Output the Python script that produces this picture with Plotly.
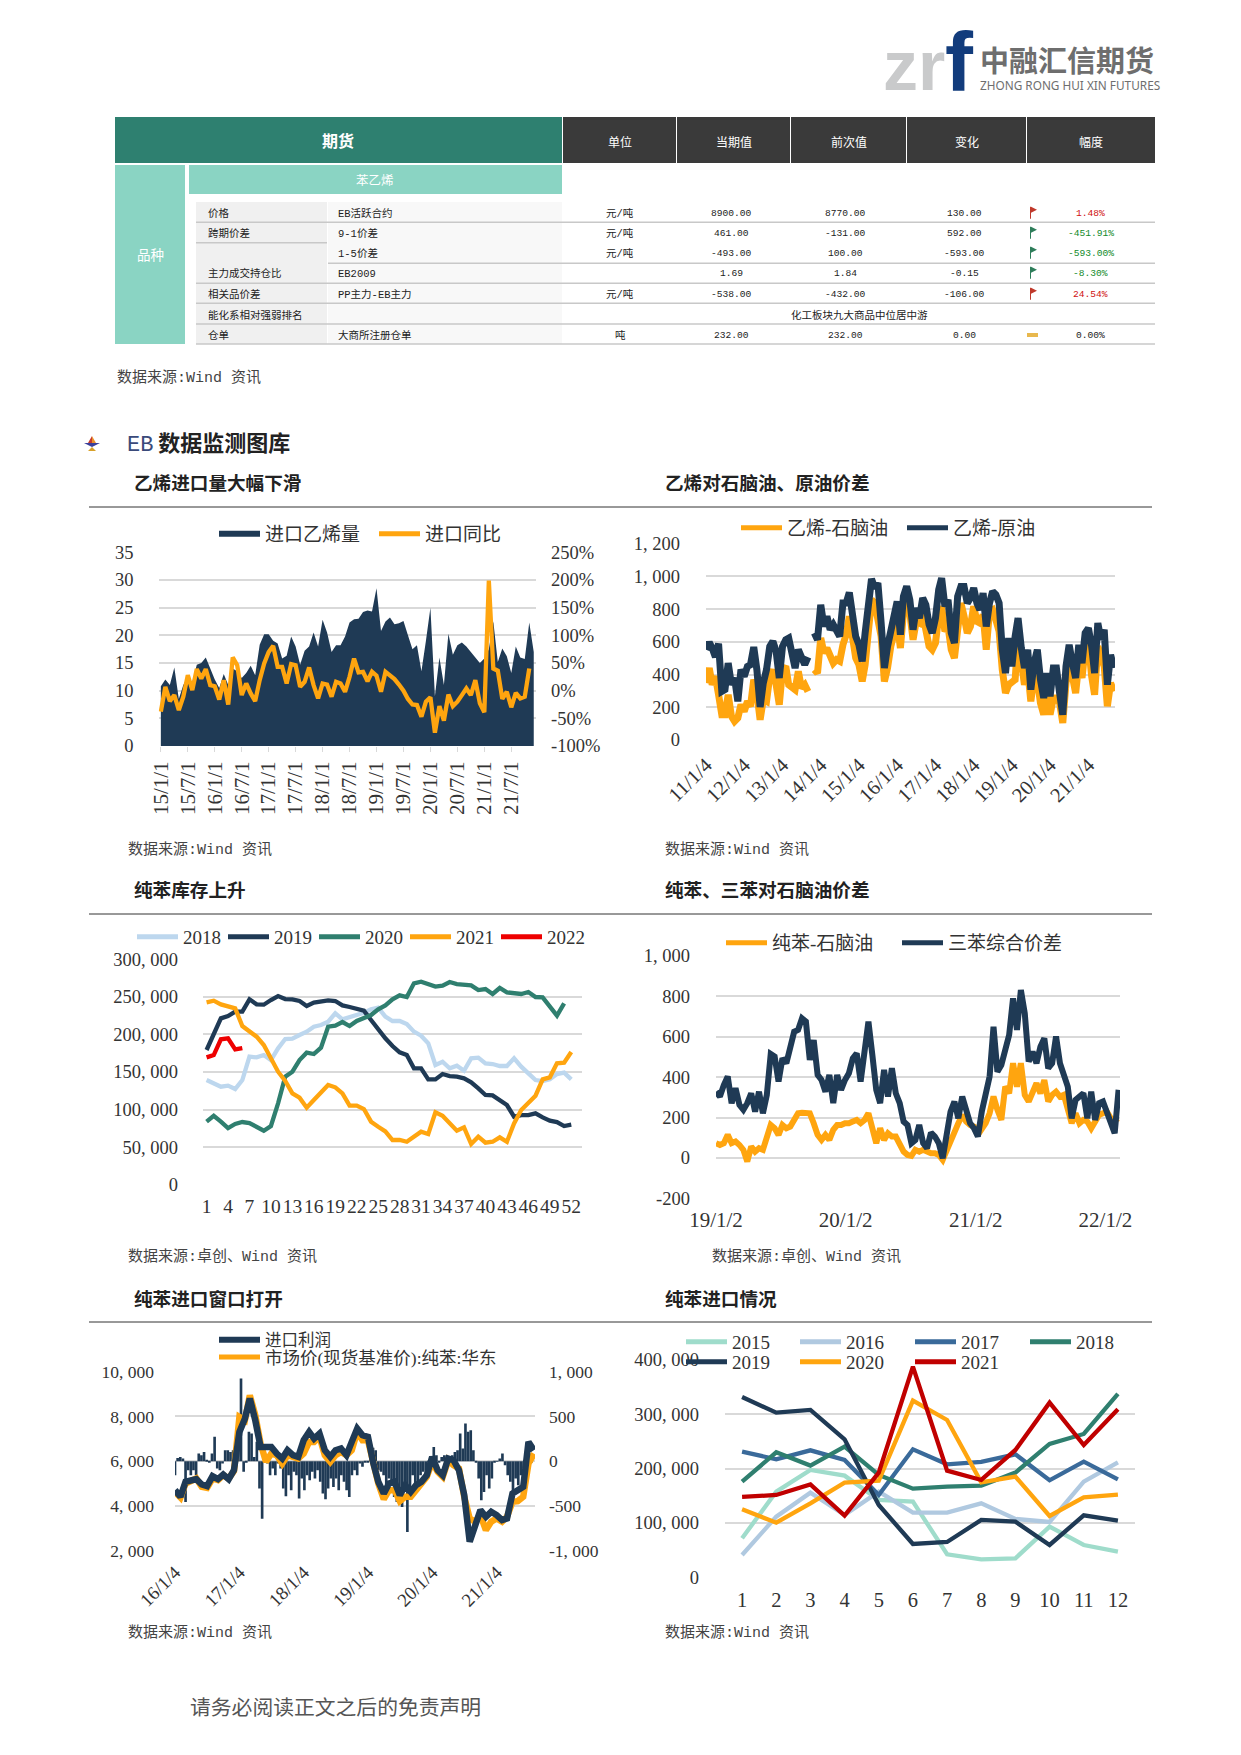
import pandas as pd
import plotly.graph_objects as go

W, H = 1241, 1755
NAVY, ORANGE, TEAL, GRID = "#1f3a55", "#ffa50f", "#2f7f6f", "#d9d9d9"
SERIF = "Liberation Serif, Noto Sans CJK SC"
MONO = "Liberation Mono, Noto Sans CJK SC"
SANS = "Noto Sans CJK SC"

# ---------- Chart 1: monthly ethylene imports ----------
c1_months = [f"{y}/{m}/1" for y in range(15, 22) for m in range(1, 13)]
c1_import = [10.8,12,11,14.2,8.5,11,12.5,11.5,14.7,15,16,14,12,10.5,13,11,14,13.5,12.3,13.2,14.5,12.8,18.3,20.2,
             20.2,19,18.5,15.8,16.3,19.8,18,14.7,17.2,18,20.5,18,22.8,20.5,17,18.2,18.2,19.8,22.3,22.9,23,24.2,24.5,24.3,
             28.5,20.8,22.5,23.2,22,22.2,22.6,20,17.5,18.2,13.5,19,25,9,16,11,20.3,16.5,18.2,18.7,18,17,16,15,
             15.8,17.5,22.5,15.2,17.6,16.2,13.2,18,16,15.7,22.3,17]
c1_yoy = [-38,7,-19,-8,-35,-11,28,1,39,22,39,10,8,-16,19,-25,60,46,-8,13,-5,-19,19,49,
          70,81,43,43,13,48,46,7,16,42,10,-14,13,11,-11,16,13,-2,25,58,33,34,17,34,
          27,-2,34,28,21,11,0,-15,-25,-26,-47,-20,-12,-76,-28,-54,-7,-28,-20,-8,4,-8,19,-23,
          -39,199,40,36,-15,-2,-30,-4,-14,-11,40]

# ---------- Chart 2: ethylene spreads ----------
c2_naphtha = [348,440,338,389,277,155,155,277,145,114,134,216,175,236,206,369,287,124,246,236,389,430,338,216,430,450,338,328,308,420,318,338,297,None,430,409,623,532,562,501,470,491,481,582,644,756,603,501,460,358,460,694,857,837,756,633,358,440,572,633,725,562,776,857,776,613,
              725,715,776,674,572,552,593,756,817,664,694,552,501,674,837,756,654,694,817,725,715,766,552,786,796,735,664,430,287,338,348,369,633,491,338,430,236,389,369,226,155,287,155,257,257,226,104,348,470,389,287,470,379,562,593,389,277,572,511,450,206,348,297]
c2_crude = [552,597,562,507,589,297,308,470,338,379,236,430,389,450,460,568,430,202,348,430,572,603,542,379,572,613,623,511,440,552,501,460,507,None,654,613,827,694,756,674,705,654,633,837,837,902,745,633,582,481,654,837,984,929,959,715,440,572,654,756,847,644,878,939,857,674,
            807,745,868,827,705,654,745,919,990,817,857,654,593,878,939,939,837,868,929,837,796,898,694,837,908,888,837,552,409,623,450,633,745,562,440,552,308,470,552,369,257,409,267,440,440,287,155,450,582,470,379,582,470,654,684,572,409,715,613,674,338,521,440]
c2_dates = pd.date_range("2011-01-04", periods=max(len(c2_naphtha), len(c2_crude)), freq=pd.DateOffset(months=1))
c2_ticks = [f"{y}-01-04" for y in range(2011, 2022)]
c2_ticktext = [f"{y}/1/4" for y in range(11, 22)]

# ---------- Chart 3: benzene stock by week ----------
c3_weeks = list(range(1, 53))
c3_2018 = [139300,134900,130400,131800,127300,139300,170400,169500,172600,165900,181500,193900,194300,199200,203700,210300,212500,217000,228100,220100,222700,225800,228900,233400,235600,223600,217900,217900,213900,203700,198300,188100,159300,163700,154900,158400,151700,168200,169100,161500,160600,158000,158000,168200,157100,148200,139300,138000,140200,147300,149100,140200]
c3_2019 = [179300,201400,221400,224500,230300,230300,246700,240000,239600,245800,251100,247100,246700,244500,237800,242300,244500,245400,244500,238700,236500,234700,231600,219200,205900,194800,184600,176100,172600,154900,154900,140200,140200,147300,144600,143800,141500,136200,128200,119400,118900,112700,106000,90500,92700,92700,95000,89600,85200,83400,78100,79900]
c3_2020 = [83900,91800,83900,75400,80800,83400,82100,76300,71900,78100,108300,143800,150400,165900,175700,173900,182400,210300,211600,216500,211200,217900,222300,225800,233400,238700,246700,252000,249800,268000,270200,267100,263600,264900,269800,267100,265800,265300,259100,260400,253800,261800,256000,255600,253800,256500,249800,249400,237800,225000,241400]
c3_2021 = [242700,244900,240000,237800,234700,211200,203700,197000,185900,169500,150400,138000,121600,115800,102500,112700,122900,132700,129600,121600,105200,105200,100700,83900,77200,71000,59500,59500,57200,63900,70500,67400,96300,91800,80800,71900,76300,54100,63900,55900,57200,63000,57200,81600,99400,109200,118500,140200,142900,161500,162400,176600]
c3_2022 = [169500,172600,193500,194800,180100,181900]

# ---------- Chart 4: benzene spreads ----------
c4_benzene = [73,64,73,114,73,81,64,40,-18,56,31,48,40,106,163,147,114,163,147,155,188,221,224,221,221,172,114,89,114,89,139,163,163,172,172,180,188,172,188,221,155,73,147,89,122,106,106,73,31,15,10,40,31,40,31,23,23,15,-10,40,89,139,172,213,180,163,155,114,139,172,221,304,238,188,353,320,469,353,469,312,279,320,370,320,386,279,312,328,304,312,238,172,221,172,188,180,147,188,213,221,229,196,188,196]
c4_triple = [328,304,361,403,271,345,262,238,271,320,229,328,221,312,515,502,378,493,469,535,625,634,691,675,485,584,411,386,328,411,271,411,337,386,419,493,518,378,526,675,510,337,271,436,304,444,320,271,180,163,73,89,163,73,48,125,106,73,-2,122,229,279,196,304,246,172,147,106,229,312,403,650,427,460,551,609,790,634,832,716,477,526,469,551,592,444,469,601,469,419,353,196,287,304,320,196,328,188,271,279,229,188,122,337]
c4_dates = pd.date_range("2019-01-02", periods=max(len(c4_benzene), len(c4_triple)), freq="11D")

# ---------- Chart 5: import profit and market price ----------
c5_profit = [-157,37,48,30,-455,-100,-157,-100,-157,86,67,104,11,-10,86,272,-82,-100,-26,123,123,104,123,67,515,925,-119,-7,328,310,48,216,-306,-642,-7,-26,-157,-82,-157,-26,-82,-306,-392,-157,-325,-119,-157,-418,-194,-325,-157,-213,-119,-194,-100,-231,-362,-425,-306,-194,-287,-194,-325,-157,-231,-325,-399,-157,-100,-157,-26,-63,-15,-7,67,149,123,-100,-119,-157,-343,-194,-250,-399,-455,-306,-511,-343,-791,-343,-157,-306,-231,-157,-119,-100,-15,-26,160,67,-7,48,67,48,30,67,104,123,310,142,421,328,347,123,-15,-194,-436,-343,-157,-306,-194,-15,-5,30,86,-45,-157,-231,-343,-194,-269,-157,-82,-15,30,-15]
c5_price = [4632,4379,5004,5108,5227,4855,4810,5227,5152,5375,5227,5554,7978,7829,8944,8052,6788,5970,6342,6268,5896,6268,6193,6119,6342,6862,6862,7086,6268,5970,6268,6416,6268,6491,7309,6937,6937,5822,5004,4305,4706,4706,4216,4409,4409,4706,4959,5301,5970,5524,5301,6045,5822,5673,4409,3442,3294,3591,2922,3294,3442,3294,3517,4186,4216,4409,5896,6342]
c5_line2 = [4706,4409,5078,5108,5197,4959,4885,5331,5197,5405,5197,5599,7309,7903,8796,7829,6639,6639,6639,6342,6119,6491,6268,6193,6937,7309,7011,7234,6491,6193,6491,6565,6268,6862,7457,7160,7086,5896,5078,4558,5004,5078,4483,4929,4632,4929,5078,5375,6193,5599,5375,6119,6045,5599,4483,2401,3219,3814,3517,3740,3591,3368,3442,4558,4706,4855,6862,6491]
c5_profit_dates = pd.date_range("2016-01-04", periods=len(c5_profit), freq="15D")
c5_dates = pd.date_range("2016-01-04", periods=len(c5_price), freq=pd.DateOffset(months=1))
c5_ticks = [f"{y}-01-04" for y in range(2016, 2022)]
c5_ticktext = [f"{y}/1/4" for y in range(16, 22)]

# ---------- Chart 6: benzene imports by month ----------
c6_months = list(range(1, 13))
c6_2015 = [71700,157500,197300,186900,142100,139100,42300,33100,34900,93100,59400,47200]
c6_2016 = [41000,111500,155600,114600,157500,118900,118900,136000,107200,101700,175800,211400]
c6_2017 = [231000,216900,233400,215700,151300,235300,207700,212000,226100,178300,212600,180100]
c6_2018 = [175800,229800,205300,240200,188100,163000,166700,168500,192400,245100,263500,337000]
c6_2019 = [331500,302700,307600,253700,133000,61300,64900,105400,102300,59400,114000,104200]
c6_2020 = [125000,100500,136000,174000,177700,324700,289200,174600,185000,112700,147000,152000]
c6_2021 = [147700,151300,170900,113300,192400,387200,196100,178900,234100,321100,243200,308800]

# ---------- Table ----------
head_cols = ["单位", "当期值", "前次值", "变化", "幅度"]
table_rows = [
    ["价格", "EB活跃合约", "元/吨", "8900.00", "8770.00", "130.00", "1.48%", "up"],
    ["跨期价差", "9-1价差", "元/吨", "461.00", "-131.00", "592.00", "-451.91%", "down"],
    ["", "1-5价差", "元/吨", "-493.00", "100.00", "-593.00", "-593.00%", "down"],
    ["主力成交持仓比", "EB2009", "", "1.69", "1.84", "-0.15", "-8.30%", "down"],
    ["相关品价差", "PP主力-EB主力", "元/吨", "-538.00", "-432.00", "-106.00", "24.54%", "up"],
    ["能化系相对强弱排名", "", "", "", "", "", "", ""],
    ["仓单", "大商所注册仓单", "吨", "232.00", "232.00", "0.00", "0.00%", "flat"],
]
rank_text = "化工板块九大商品中位居中游"

px = lambda v: v / W
py = lambda v: 1 - v / H
fig = go.Figure()
shapes, annots = [], []


def rect(x0, y0, x1, y1, color):
    shapes.append(dict(type="rect", xref="paper", yref="paper", x0=px(x0), x1=px(x1), y0=py(y0), y1=py(y1),
                       fillcolor=color, line=dict(width=0), layer="below"))


def hline(x0, x1, y, color="#c8c8c8", width=1.5):
    shapes.append(dict(type="line", xref="paper", yref="paper", x0=px(x0), x1=px(x1), y0=py(y), y1=py(y),
                       line=dict(color=color, width=width), layer="below"))


def poly(points, color):
    path = "M" + " L".join(f"{px(a):.5f},{py(b):.5f}" for a, b in points) + " Z"
    shapes.append(dict(type="path", xref="paper", yref="paper", path=path, fillcolor=color, line=dict(width=0)))


def text(x, y, s, size, color="#222222", family=MONO, anchor="center"):
    annots.append(dict(x=px(x), y=py(y), xref="paper", yref="paper", text=s, showarrow=False, xanchor=anchor,
                       yanchor="middle", align="left", font=dict(size=size, color=color, family=family),
                       borderpad=0, borderwidth=0))


# Logo
text(883, 65.5, "<b>zr</b>", 70, "#c9cacb", "Liberation Sans", "left")
text(945, 62, "<b>f</b>", 84, "#123c7c", "Liberation Sans", "left")
text(980, 59, "<b>中融汇信期货</b>", 29, "#6e6e6e", SANS, "left")
text(980, 85, "ZHONG RONG HUI XIN FUTURES", 11.8, "#6e6e6e", "Noto Sans", "left")

# Table
rect(115, 117, 562, 163, "#2e8070")
text(338, 140, "<b>期货</b>", 16, "#ffffff", SANS)
for x0, x1, t in zip([563, 677, 791, 907, 1027], [676, 790, 906, 1026, 1155], head_cols):
    rect(x0, 117, x1, 163, "#3a3a3a")
    text((x0 + x1) / 2, 141, t, 12, "#ffffff", SANS)
rect(115, 165, 185, 344, "#8ad4c3")
text(150, 254, "品种", 13.5, "#ffffff", SANS)
rect(189, 165, 562, 194, "#8ad4c3")
text(375, 180, "苯乙烯", 12.5, "#ffffff", SANS)
rect(196, 202, 327, 344, "#f0f0f0")
rect(328, 202, 562, 344, "#f8f8f8")
row_y = [213.7, 233.7, 253.7, 273.7, 294.7, 315, 335]
for y in [222.3, 283.3, 303.3, 324, 344]:
    hline(196, 1155, y)
hline(196, 327, 242.7)
hline(328, 1155, 263.3)
for y, row in zip(row_y, table_rows):
    text(208, y, row[0], 10.5, "#222222", MONO, "left")
    text(338, y, row[1], 10.5, "#222222", MONO, "left")
    if row[0].startswith("能化"):
        text(859, y, rank_text, 10.5, "#222222", MONO)
        continue
    text(620, y, row[2], 10.5)
    text(731, y, row[3], 9.6)
    text(846, y, row[4], 9.6)
    text(964, y, row[5], 9.6)
    pct_color = {"up": "#d01010", "down": "#118a2a", "flat": "#222222"}[row[7]]
    text(1090.5, y, row[6], 9.6, pct_color)
    if row[7] == "flat":
        rect(1027, y - 2, 1038, y + 2, "#e8b84e")
    else:
        flag = "#c0392b" if row[7] == "up" else "#2e7d5a"
        poly([(1030, y - 7), (1031, y - 7), (1031, y + 5), (1030, y + 5)], flag)
        poly([(1031, y - 7), (1037, y - 4), (1031, y - 1)], flag)
text(117, 377.5, "数据来源:Wind 资讯", 15, "#444444", MONO, "left")

# Section heading
poly([(92, 436), (96, 443), (92, 443)], "#e8912a")
poly([(92, 436), (88, 443), (92, 443)], "#c8392b")
poly([(84, 443), (100, 443), (92, 447)], "#3a3f9a")
poly([(92, 447), (96, 451), (88, 451)], "#d8a12a")
text(127, 441, '<span style="color:#3a4a7a;font-family:Liberation Mono">EB</span> <b>数据监测图库</b>', 22, "#222222", SANS, "left")

# Rules, titles, sources
for y in [507, 914, 1322]:
    hline(89, 1152, y, "#333333", 1)
for x, y, t in [(134, 481, "乙烯进口量大幅下滑"), (665, 481, "乙烯对石脑油、原油价差"),
                (134, 888.5, "纯苯库存上升"), (665, 888.5, "纯苯、三苯对石脑油价差"),
                (134, 1297, "纯苯进口窗口打开"), (665, 1297, "纯苯进口情况")]:
    text(x, y, f"<b>{t}</b>", 18.6, "#222222", SANS, "left")
for x, y, t in [(128, 849.5, "数据来源:Wind 资讯"), (665, 849.5, "数据来源:Wind 资讯"),
                (128, 1257, "数据来源:卓创、Wind 资讯"), (712, 1257, "数据来源:卓创、Wind 资讯"),
                (128, 1632.5, "数据来源:Wind 资讯"), (665, 1632.5, "数据来源:Wind 资讯")]:
    text(x, y, t, 15, "#444444", MONO, "left")
text(190, 1706, "请务必阅读正文之后的免责声明", 20.8, "#555555", SANS, "left")

layout = dict(width=W, height=H, margin=dict(l=0, r=0, t=0, b=0, pad=0, autoexpand=False), paper_bgcolor="white",
              plot_bgcolor="white", showlegend=True)
legend_count = [0]


def legend(x, y, size=19):
    legend_count[0] += 1
    key = "legend" if legend_count[0] == 1 else f"legend{legend_count[0]}"
    layout[key] = dict(x=(x - 5) / W, y=py(y), xanchor="left", yanchor="middle", orientation="v", itemwidth=41,
                       bgcolor="rgba(0,0,0,0)", borderwidth=0, font=dict(size=size, family=SERIF, color="#333333"),
                       itemsizing="constant")
    return key


def xaxis(key, x0, x1, anchor, size=18.5, **kw):
    layout[key] = dict(domain=[px(x0), px(x1)], anchor=anchor, showgrid=False, zeroline=False,
                       tickfont=dict(size=size, family=SERIF, color="#333333"), showline=False, **kw)


def yaxis(key, y0, y1, anchor, rng, vals, labels, standoff, side="left", grid=True, overlaying=None, size=18.5):
    d = dict(domain=[py(y1), py(y0)], anchor=anchor, range=rng, tickmode="array", tickvals=vals, ticktext=labels,
             showgrid=grid, gridcolor=GRID, gridwidth=1.5, zeroline=False, showline=False, ticks="",
             ticklabelstandoff=standoff, side=side, tickfont=dict(size=size, family=SERIF, color="#333333"))
    if overlaying:
        d["overlaying"] = overlaying
    layout[key] = d


def line(x, y, name, color, xa, ya, leg=None, width=4.3):
    fig.add_trace(go.Scatter(x=x, y=y, name=name, mode="lines", line=dict(color=color, width=width),
                             xaxis=xa, yaxis=ya, showlegend=leg is not None, legend=leg or "legend",
                             connectgaps=False, hoverinfo="skip"))


def area(x, y, name, color, xa, ya, leg):
    fig.add_trace(go.Scatter(x=x, y=y, name=name, mode="none", fill="tozeroy",
                             fillcolor=color, xaxis=xa, yaxis=ya, legend=leg, hoverinfo="skip"))


# Chart 1
xaxis("xaxis", 158.6, 536, "y", size=21, type="category", categoryorder="array", categoryarray=c1_months, range=[-0.5, 83.5],
      tickmode="array", tickvals=c1_months[::6], ticktext=c1_months[::6], tickangle=-90, ticks="outside", ticklen=5,
      tickcolor=GRID, ticklabelstandoff=1)
yaxis("yaxis", 552.3, 746, "x", [0, 35], list(range(0, 36, 5)), [str(v) for v in range(0, 36, 5)], 24)
yaxis("yaxis2", 552.3, 746, "x", [-100, 250], list(range(-100, 251, 50)), [f"{v}%" for v in range(-100, 251, 50)],
      14, side="right", grid=False, overlaying="y")
area(c1_months, c1_import, "进口乙烯量", NAVY, "x", "y", legend(219, 534))
line(c1_months[:len(c1_yoy)], c1_yoy, "进口同比", ORANGE, "x", "y2", legend(379, 534))

# Chart 2
xaxis("xaxis2", 706, 1115, "y3", size=20.5, type="date", range=["2011-01-04", "2021-09-15"], tickmode="array", tickvals=c2_ticks,
      ticktext=c2_ticktext, tickangle=-45, ticks="", ticklabelstandoff=8)
yaxis("yaxis3", 543.7, 740, "x2", [0, 1200], list(range(0, 1201, 200)), ["0", "200", "400", "600", "800", "1, 000", "1, 200"], 25)
line(c2_dates[:len(c2_naphtha)], c2_naphtha, "乙烯-石脑油", ORANGE, "x2", "y3", legend(741, 528), 7)
line(c2_dates[:len(c2_crude)], c2_crude, "乙烯-原油", NAVY, "x2", "y3", legend(907, 528), 7)

# Chart 3
k3 = [0, 50000, 100000, 150000, 200000, 250000, 300000]
xaxis("xaxis3", 203, 582, "y4", size=19.5, type="linear", range=[0.5, 53.5], tickmode="array", tickvals=c3_weeks[::3],
      ticktext=[str(v) for v in c3_weeks[::3]], ticks="", ticklabelstandoff=8, tickangle=0)
yaxis("yaxis4", 959.3, 1184.7, "x3", [0, 300000], k3, ["0", "50, 000", "100, 000", "150, 000", "200, 000", "250, 000", "300, 000"], 24)
for i, (s, n, c) in enumerate([(c3_2018, "2018", "#bdd7ee"), (c3_2019, "2019", NAVY), (c3_2020, "2020", TEAL),
                               (c3_2021, "2021", ORANGE), (c3_2022, "2022", "#ee0000")]):
    line(c3_weeks[:len(s)], s, n, c, "x3", "y4", legend(137 + 91 * i, 937))

# Chart 4
xaxis("xaxis4", 716, 1120, "y5", size=21, type="date", range=["2019-01-02", "2022-02-12"], tickmode="array",
      tickvals=["2019-01-02", "2020-01-02", "2021-01-02", "2022-01-02"], ticktext=["19/1/2", "20/1/2", "21/1/2", "22/1/2"],
      ticks="", ticklabelstandoff=7, tickangle=0)
yaxis("yaxis5", 956, 1198.3, "x4", [-200, 1000], list(range(-200, 1001, 200)), ["-200", "0", "200", "400", "600", "800", "1, 000"], 25)
line(c4_dates[:len(c4_benzene)], c4_benzene, "纯苯-石脑油", ORANGE, "x4", "y5", legend(726, 943), 6)
line(c4_dates[:len(c4_triple)], c4_triple, "三苯综合价差", NAVY, "x4", "y5", legend(902, 943), 6)

# Chart 5
xaxis("xaxis5", 175, 535, "y6", size=18.8, type="date", range=["2016-01-04", "2021-08-10"], tickmode="array", tickvals=c5_ticks,
      ticktext=c5_ticktext, tickangle=-45, ticks="", ticklabelstandoff=6)
yaxis("yaxis6", 1371.7, 1550.7, "x5", [-1000, 1000], [-1000, -500, 0, 500, 1000], ["-1, 000", "-500", "0", "500", "1, 000"],
      13, side="right", grid=False, size=17.5)
yaxis("yaxis7", 1371.7, 1550.7, "x5", [2000, 10000], [2000, 4000, 6000, 8000, 10000], ["2, 000", "4, 000", "6, 000", "8, 000", "10, 000"],
      20, overlaying="y6", size=17.5)
fig.add_trace(go.Bar(x=c5_profit_dates, y=c5_profit, name="进口利润", marker=dict(color=NAVY, line=dict(width=0)),
                     width=15 * 86400000, xaxis="x5", yaxis="y6", showlegend=False, hoverinfo="skip"))
area(c5_profit_dates[:1], [0], "进口利润", NAVY, "x5", "y6", legend(219, 1340, 16.5))
line(c5_dates, c5_price, "市场价(现货基准价):纯苯:华东", ORANGE, "x5", "y7", legend(219, 1357, 17.5), 6.5)
line(c5_dates, c5_line2, "进口利润走势", NAVY, "x5", "y7", None, 6.5)

# Chart 6
k6 = [0, 100000, 200000, 300000, 400000]
xaxis("xaxis6", 725, 1135, "y8", size=20.5, type="linear", range=[0.5, 12.5], tickmode="array", tickvals=c6_months,
      ticktext=[str(v) for v in c6_months], ticks="", ticklabelstandoff=8, tickangle=0)
yaxis("yaxis8", 1359.7, 1577.3, "x6", [0, 400000], k6, ["0", "100, 000", "200, 000", "300, 000", "400, 000"], 25)
c6_cols = [686, 800, 915, 1030]
for i, (s, n, c) in enumerate([(c6_2015, "2015", "#9fdccb"), (c6_2016, "2016", "#b0c9e0"), (c6_2017, "2017", "#3a6a9a"),
                               (c6_2018, "2018", TEAL), (c6_2019, "2019", NAVY), (c6_2020, "2020", ORANGE),
                               (c6_2021, "2021", "#c00000")]):
    line(c6_months, s, n, c, "x6", "y8", legend(c6_cols[i % 4], 1342 if i < 4 else 1362))

layout["shapes"] = shapes
layout["annotations"] = annots
fig.update_layout(**layout)
fig.write_html("out.html", config={"displayModeBar": False},
               post_script="document.body.style.margin='0';document.body.style.overflow='hidden';")
